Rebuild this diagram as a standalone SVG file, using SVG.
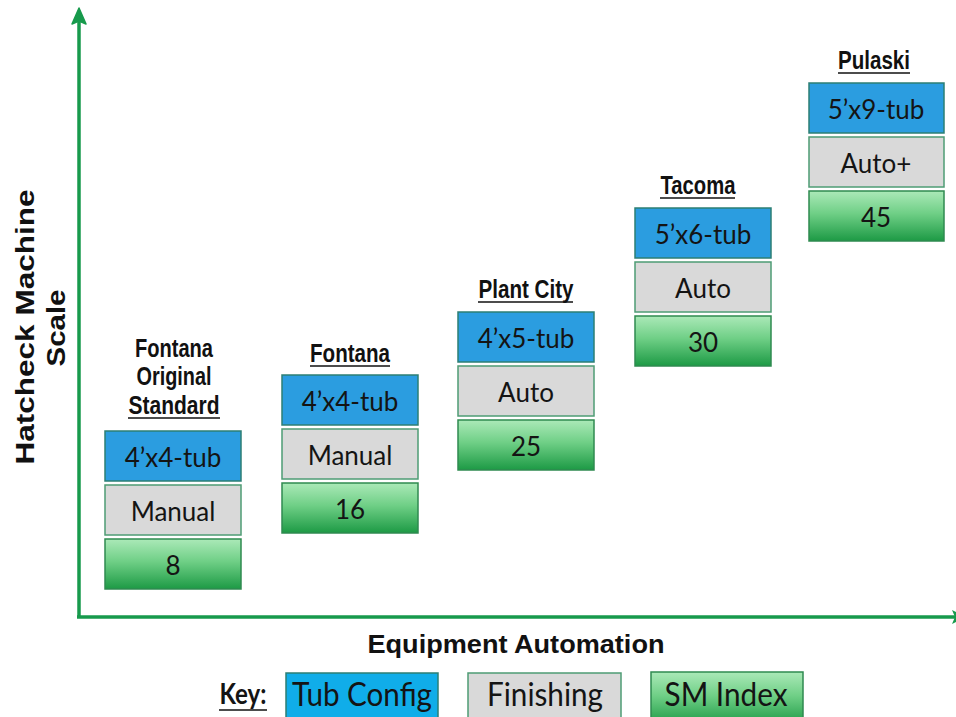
<svg xmlns="http://www.w3.org/2000/svg" width="956" height="717" viewBox="0 0 956 717">
  <defs>
    <linearGradient id="gradIndex" x1="0" y1="0" x2="0" y2="1">
      <stop offset="0" stop-color="#ABE9B8"/>
      <stop offset="0.45" stop-color="#6FCF86"/>
      <stop offset="1" stop-color="#1D9A45"/>
    </linearGradient>
    <style>
      .tub { fill: #2B9DE0; stroke: #2C7F74; stroke-width: 1.5; }
      .fin { fill: #D9D9D9; stroke: #4E9C74; stroke-width: 1.5; }
      .idx { fill: url(#gradIndex); stroke: #2F8A50; stroke-width: 1.5; }
      .val { font-family: Lato, "Open Sans", sans-serif; font-size: 26px; fill: #141414; text-anchor: middle; }
      .head { font-family: "Liberation Sans", Arial, sans-serif; font-weight: bold; font-size: 25px; fill: #111; text-anchor: middle; }
      .uline { stroke: #111; stroke-width: 1.6; }
      .axis { stroke: #179A4C; stroke-width: 3.5; fill: none; }
      .axlabel { font-family: "Liberation Sans", Arial, sans-serif; font-weight: bold; font-size: 25px; fill: #111; text-anchor: middle; }
      .key { font-family: Lato, "Open Sans", sans-serif; font-size: 32px; fill: #141414; text-anchor: middle; }
    </style>
  </defs>

  <!-- axes -->
  <g id="connectors">
    <line class="axis" x1="79" y1="20" x2="79" y2="618"/>
    <path d="M79,8 L86,24 L79,21 L72,24 Z" fill="#179A4C" stroke="#179A4C" stroke-width="1.5" stroke-linejoin="round"/>
    <line class="axis" x1="77" y1="617" x2="956" y2="617"/>
    <path d="M966,617 L952,610 L955,617 L952,624 Z" fill="#179A4C"/>
  </g>

  <!-- axis titles -->
  <g id="axis-titles">
    <text class="axlabel" transform="translate(34,327) rotate(-90)" textLength="275" lengthAdjust="spacingAndGlyphs">Hatcheck Machine</text>
    <text class="axlabel" transform="translate(65,328) rotate(-90)" textLength="77" lengthAdjust="spacingAndGlyphs">Scale</text>
    <text class="axlabel" x="516" y="653" textLength="297" lengthAdjust="spacingAndGlyphs">Equipment Automation</text>
  </g>

  <!-- site: Fontana Original Standard -->
  <g id="fontana-original">
    <text class="head" x="174" y="357" textLength="78" lengthAdjust="spacingAndGlyphs">Fontana</text>
    <text class="head" x="174" y="385" textLength="75" lengthAdjust="spacingAndGlyphs">Original</text>
    <text class="head" x="174" y="414" textLength="91" lengthAdjust="spacingAndGlyphs">Standard</text>
    <line class="uline" x1="128" y1="418" x2="220" y2="418"/>
    <rect class="tub" x="105" y="431" width="136" height="50"/>
    <rect class="fin" x="105" y="485" width="136" height="50"/>
    <rect class="idx" x="105" y="539" width="136" height="50"/>
    <text class="val" x="173" y="467">4’x4-tub</text>
    <text class="val" x="173" y="521">Manual</text>
    <text class="val" x="173" y="575">8</text>
  </g>

  <!-- site: Fontana -->
  <g id="fontana">
    <text class="head" x="350" y="362" textLength="80" lengthAdjust="spacingAndGlyphs">Fontana</text>
    <line class="uline" x1="310" y1="366" x2="390" y2="366"/>
    <rect class="tub" x="282" y="375" width="136" height="50"/>
    <rect class="fin" x="282" y="429" width="136" height="50"/>
    <rect class="idx" x="282" y="483" width="136" height="50"/>
    <text class="val" x="350" y="411">4’x4-tub</text>
    <text class="val" x="350" y="465">Manual</text>
    <text class="val" x="350" y="519">16</text>
  </g>

  <!-- site: Plant City -->
  <g id="plant-city">
    <text class="head" x="526" y="298" textLength="95" lengthAdjust="spacingAndGlyphs">Plant City</text>
    <line class="uline" x1="478" y1="302" x2="573" y2="302"/>
    <rect class="tub" x="458" y="312" width="136" height="50"/>
    <rect class="fin" x="458" y="366" width="136" height="50"/>
    <rect class="idx" x="458" y="420" width="136" height="50"/>
    <text class="val" x="526" y="348">4’x5-tub</text>
    <text class="val" x="526" y="402">Auto</text>
    <text class="val" x="526" y="456">25</text>
  </g>

  <!-- site: Tacoma -->
  <g id="tacoma">
    <text class="head" x="698" y="194" textLength="75" lengthAdjust="spacingAndGlyphs">Tacoma</text>
    <line class="uline" x1="660" y1="198" x2="735" y2="198"/>
    <rect class="tub" x="635" y="208" width="136" height="50"/>
    <rect class="fin" x="635" y="262" width="136" height="50"/>
    <rect class="idx" x="635" y="316" width="136" height="50"/>
    <text class="val" x="703" y="244">5’x6-tub</text>
    <text class="val" x="703" y="298">Auto</text>
    <text class="val" x="703" y="352">30</text>
  </g>

  <!-- site: Pulaski -->
  <g id="pulaski">
    <text class="head" x="874" y="69" textLength="72" lengthAdjust="spacingAndGlyphs">Pulaski</text>
    <line class="uline" x1="838" y1="73" x2="910" y2="73"/>
    <rect class="tub" x="809" y="83" width="135" height="50"/>
    <rect class="fin" x="809" y="137" width="135" height="50"/>
    <rect class="idx" x="809" y="191" width="135" height="50"/>
    <text class="val" x="876" y="119">5’x9-tub</text>
    <text class="val" x="876" y="173">Auto+</text>
    <text class="val" x="876" y="227">45</text>
  </g>

  <!-- legend -->
  <g id="legend">
    <text x="243" y="704" font-family="Lato, 'Open Sans', sans-serif" font-weight="bold" font-size="29" fill="#141414" text-anchor="middle" textLength="47" lengthAdjust="spacingAndGlyphs">Key:</text>
    <line class="uline" x1="219" y1="710" x2="267" y2="710"/>
    <rect x="286" y="673" width="152" height="52" fill="#10ADE9" stroke="#2C7F74" stroke-width="1.5"/>
    <text class="key" x="362" y="706" textLength="140" lengthAdjust="spacingAndGlyphs">Tub Config</text>
    <rect class="fin" x="468" y="673" width="153" height="52"/>
    <text class="key" x="545" y="706" textLength="116" lengthAdjust="spacingAndGlyphs">Finishing</text>
    <rect class="idx" x="651" y="672" width="152" height="53"/>
    <text class="key" x="726" y="706" textLength="123" lengthAdjust="spacingAndGlyphs">SM Index</text>
  </g>
</svg>
